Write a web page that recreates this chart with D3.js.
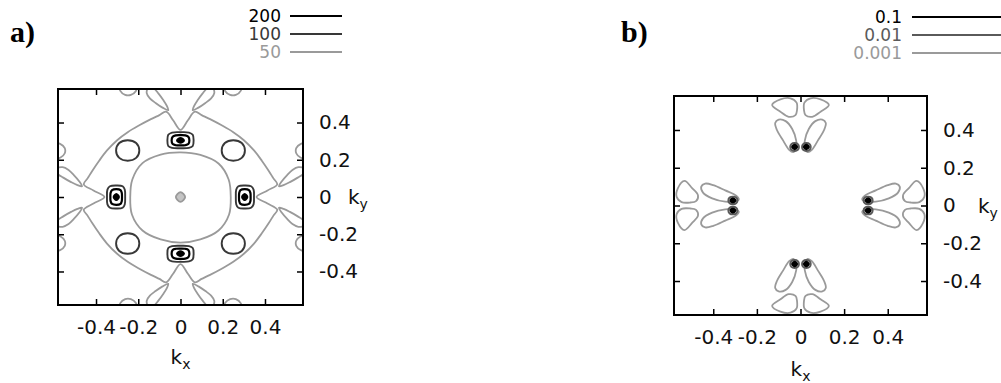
<!DOCTYPE html>
<html><head><meta charset="utf-8">
<script src="https://cdn.jsdelivr.net/npm/d3@7"></script>
<style>body{margin:0;background:#fff}svg{display:block}</style>
</head><body>
<svg id="chart" width="1001" height="383"></svg>
<script>
// ---------------- data (k-space units) ----------------
const tickValues = [-0.4, -0.2, 0, 0.2, 0.4];
const tickLabels = ["-0.4", "-0.2", "0", "0.2", "0.4"];
const levelsA = ["200", "100", "50"];
const levelsB = ["0.1", "0.01", "0.001"];
const kDomain = [-0.58, 0.58];

// panel a, level 50: outer wavy contour
const outerA50 = [[0,0.36],[-0.035,0.412],[-0.068,0.458],[-0.1,0.44],[-0.14,0.418],[-0.195,0.385],[-0.25,0.348],[-0.3,0.305],[-0.348,0.25],[-0.385,0.195],[-0.418,0.14],[-0.44,0.1],[-0.458,0.068],[-0.412,0.035],[-0.36,0],
[-0.412,-0.035],[-0.458,-0.068],[-0.44,-0.1],[-0.418,-0.14],[-0.385,-0.195],[-0.348,-0.25],[-0.3,-0.305],[-0.25,-0.348],[-0.195,-0.385],[-0.14,-0.418],[-0.1,-0.44],[-0.068,-0.458],[-0.035,-0.412],[0,-0.36],
[0.035,-0.412],[0.068,-0.458],[0.1,-0.44],[0.14,-0.418],[0.195,-0.385],[0.25,-0.348],[0.3,-0.305],[0.348,-0.25],[0.385,-0.195],[0.418,-0.14],[0.44,-0.1],[0.458,-0.068],[0.412,-0.035],[0.36,0],
[0.412,0.035],[0.458,0.068],[0.44,0.1],[0.418,0.14],[0.385,0.195],[0.348,0.25],[0.3,0.305],[0.25,0.348],[0.195,0.385],[0.14,0.418],[0.1,0.44],[0.068,0.458],[0.035,0.412]];
// panel a, level 50: inner ring
const ringA50 = [[0.238,0],[0.228,0.094],[0.18,0.18],[0.094,0.226],[0,0.24],[-0.094,0.228],[-0.18,0.182],[-0.228,0.094],[-0.238,0],[-0.23,-0.094],[-0.18,-0.18],[-0.094,-0.228],[0,-0.245],[0.094,-0.228],[0.18,-0.18],[0.23,-0.094]];
// panel a, level 50: small centre spot
const centreA50 = [[0.022,0],[0,0.026],[-0.022,0],[0,-0.026]];
// panel a, level 50: lobes near the frame (top arm, left of axis)
const lobeA50 = [[-0.058,0.466],[-0.085,0.48],[-0.118,0.505],[-0.145,0.53],[-0.16,0.558],[-0.152,0.59],[-0.128,0.585],[-0.104,0.555],[-0.08,0.518],[-0.064,0.488]];
const edgeLobeA50 = [[-0.29,0.61],[-0.285,0.57],[-0.262,0.548],[-0.235,0.548],[-0.212,0.568],[-0.205,0.61]];
// panel a, level 100: diagonal ovals (upper-left one)
const ovalA100 = [[-0.195,0.25],[-0.21,0.29],[-0.25,0.305],[-0.29,0.29],[-0.305,0.25],[-0.29,0.21],[-0.25,0.195],[-0.21,0.21]];
// panel a, axis blobs (top arm)
const blobA100 = [[0.062,0.304],[0.058,0.334],[0.04,0.346],[0,0.348],[-0.04,0.346],[-0.058,0.334],[-0.062,0.304],[-0.058,0.274],[-0.04,0.264],[0,0.262],[0.04,0.264],[0.058,0.274]];
const blobA200 = [[0.042,0.304],[0.037,0.324],[0.022,0.331],[0,0.332],[-0.022,0.331],[-0.037,0.324],[-0.042,0.304],[-0.037,0.284],[-0.022,0.278],[0,0.277],[0.022,0.278],[0.037,0.284]];
const coreA200 = [[0.016,0.304],[0,0.316],[-0.016,0.304],[0,0.292]];

// panel b (top arm, left of axis)
const lobeB001 = [[-0.13,0.532],[-0.092,0.562],[-0.046,0.568],[-0.018,0.545],[-0.016,0.505],[-0.023,0.479],[-0.054,0.47],[-0.092,0.497]];
const ovalB001 = [[-0.1,0.455],[-0.068,0.447],[-0.038,0.405],[-0.02,0.345],[-0.02,0.3],[-0.033,0.283],[-0.052,0.295],[-0.08,0.345],[-0.108,0.4],[-0.116,0.437]];
const spotB01 = [[-0.007,0.31],[-0.012,0.325],[-0.027,0.331],[-0.042,0.325],[-0.047,0.31],[-0.042,0.295],[-0.027,0.289],[-0.012,0.295]];
const coreB1 = [[-0.016,0.31],[-0.027,0.321],[-0.038,0.31],[-0.027,0.299]];

// ---------------- symmetry helpers (fourfold figure) ----------------
const rot = [p => [p[0], p[1]], p => [-p[1], p[0]], p => [-p[0], -p[1]], p => [p[1], -p[0]]];
const mirror = p => [-p[0], p[1]];
const arms = s => rot.map(r => s.map(r));
const armsM = s => arms(s).concat(arms(s.map(mirror)));

const styleA = {
  "200": {stroke: "#000", w: 2.2},
  "100": {stroke: "#383838", w: 1.9},
  "50":  {stroke: "#9a9a9a", w: 1.8}
};
const styleB = {
  "0.1":   {stroke: "#000", w: 2.2},
  "0.01":  {stroke: "#5a5a5a", w: 1.9},
  "0.001": {stroke: "#9a9a9a", w: 1.8}
};

const contoursA = [
  {level: "50", shapes: [outerA50, ringA50]},
  {level: "50", shapes: [centreA50], fill: "#c4c4c4"},
  {level: "50", shapes: armsM(lobeA50).concat(armsM(edgeLobeA50))},
  {level: "100", shapes: arms(ovalA100).concat(arms(blobA100))},
  {level: "200", shapes: arms(blobA200)},
  {level: "200", shapes: arms(coreA200), fill: "#000"}
];
const contoursB = [
  {level: "0.001", shapes: armsM(lobeB001).concat(armsM(ovalB001))},
  {level: "0.01", shapes: armsM(spotB01)},
  {level: "0.1", shapes: armsM(coreB1), fill: "#000"}
];

// ---------------- drawing ----------------
const FONT = "'DejaVu Sans', 'Liberation Sans', sans-serif";
const svg = d3.select("#chart");

function drawPanel(o) {
  const x = d3.scaleLinear(kDomain, [o.left, o.right]);
  const y = d3.scaleLinear(kDomain, [o.bottom, o.top]);
  const g = svg.append("g");
  const clipId = "clip" + o.id;
  g.append("clipPath").attr("id", clipId).append("rect")
    .attr("x", o.left).attr("y", o.top).attr("width", o.right - o.left).attr("height", o.bottom - o.top);
  const line = d3.line().x(d => x(d[0])).y(d => y(d[1])).curve(d3.curveCatmullRomClosed.alpha(0.5));
  const cg = g.append("g").attr("clip-path", `url(#${clipId})`);
  o.contours.forEach(c => {
    const st = o.style[c.level];
    cg.selectAll(null).data(c.shapes).join("path")
      .attr("d", line)
      .attr("fill", c.fill || "none")
      .attr("stroke", st.stroke)
      .attr("stroke-width", st.w)
      .attr("stroke-linejoin", "round");
  });
  const fmt = d => tickLabels[tickValues.indexOf(d)];
  const axB = g.append("g").attr("transform", `translate(0,${o.bottom})`)
    .call(d3.axisBottom(x).tickValues(tickValues).tickFormat(fmt).tickSizeInner(-6).tickSizeOuter(0).tickPadding(15));
  const axT = g.append("g").attr("transform", `translate(0,${o.top})`)
    .call(d3.axisTop(x).tickValues(tickValues).tickFormat("").tickSizeInner(-6).tickSizeOuter(0));
  const axL = g.append("g").attr("transform", `translate(${o.left},0)`)
    .call(d3.axisLeft(y).tickValues(tickValues).tickFormat("").tickSizeInner(-6).tickSizeOuter(0));
  const axR = g.append("g").attr("transform", `translate(${o.right},0)`)
    .call(d3.axisRight(y).tickValues(tickValues).tickFormat(fmt).tickSizeInner(-6).tickSizeOuter(0).tickPadding(16));
  [axB, axT, axL, axR].forEach(a => {
    a.select(".domain").remove();
    a.selectAll(".tick line").attr("stroke", "#000").attr("stroke-width", 1.5);
    a.selectAll("text").attr("font-family", FONT).attr("font-size", 20).attr("fill", "#111");
  });
  g.append("rect").attr("x", o.left).attr("y", o.top)
    .attr("width", o.right - o.left).attr("height", o.bottom - o.top)
    .attr("fill", "none").attr("stroke", "#000").attr("stroke-width", 2);

  // axis titles
  const kx = g.append("text").attr("x", x(0)).attr("y", o.kxY).attr("text-anchor", "middle")
    .attr("font-family", FONT).attr("font-size", 20).attr("fill", "#111");
  kx.append("tspan").text("k");
  kx.append("tspan").attr("font-size", 14).attr("dy", 5).text("x");
  const ky = g.append("text").attr("x", o.kyX).attr("y", y(0)).attr("dy", "0.36em")
    .attr("font-family", FONT).attr("font-size", 20).attr("fill", "#111");
  ky.append("tspan").text("k");
  ky.append("tspan").attr("font-size", 14).attr("dy", 5).text("y");

  // panel label
  g.append("text").attr("x", o.labelX).attr("y", o.labelY).text(o.label)
    .attr("font-family", "'Liberation Serif', 'DejaVu Serif', serif").attr("font-weight", "bold")
    .attr("font-size", 30).attr("fill", "#000");

  // legend
  o.levels.forEach((lv, i) => {
    const st = o.style[lv];
    const yy = o.legY[i];
    g.append("text").attr("x", o.legTextX).attr("y", yy).attr("dy", "0.36em")
      .attr("text-anchor", "end").attr("font-family", FONT).attr("font-size", 17)
      .attr("fill", st.stroke).text(lv);
    g.append("line").attr("x1", o.legLine[0]).attr("x2", o.legLine[1])
      .attr("y1", yy).attr("y2", yy).attr("stroke", st.stroke).attr("stroke-width", st.w);
  });
}

drawPanel({id: "a", left: 58, right: 303, top: 89, bottom: 305,
  contours: contoursA, style: styleA, levels: levelsA,
  kxY: 364, kyX: 348, label: "a)", labelX: 10, labelY: 42,
  legTextX: 281, legY: [16, 34, 52], legLine: [290, 342]});
drawPanel({id: "b", left: 674, right: 927, top: 96, bottom: 315,
  contours: contoursB, style: styleB, levels: levelsB,
  kxY: 376, kyX: 978, label: "b)", labelX: 621, labelY: 42,
  legTextX: 902, legY: [17, 35, 53], legLine: [912, 1001]});
</script>
</body></html>
